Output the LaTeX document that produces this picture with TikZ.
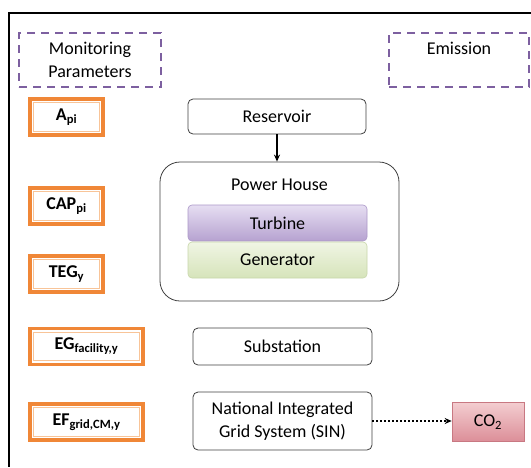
\documentclass[tikz,border=0pt]{standalone}
\usepackage{fontspec}
\setmainfont{Carlito}
\usepackage{xcolor}
\usetikzlibrary{arrows.meta, calc}
\definecolor{dashpurple}{RGB}{125,96,160}
\definecolor{orangeA}{RGB}{240,135,55}
\definecolor{orangeB}{RGB}{248,196,152}
\definecolor{turbTop}{RGB}{230,222,242}
\definecolor{turbBot}{RGB}{182,162,208}
\definecolor{turbEdge}{RGB}{172,152,200}
\definecolor{genTop}{RGB}{240,245,228}
\definecolor{genBot}{RGB}{214,228,186}
\definecolor{genEdge}{RGB}{200,215,170}
\definecolor{coTop}{RGB}{243,205,208}
\definecolor{coBot}{RGB}{220,142,152}
\definecolor{coEdge}{RGB}{200,120,130}

\begin{document}
\begin{tikzpicture}[x=1pt, y=-1pt, >={Stealth[length=7pt, width=6pt]},
  every node/.style={font=\fontsize{18}{23}\selectfont, align=center, inner sep=0pt},
  group/.style={draw=dashpurple, line width=2pt, dash pattern=on 8pt off 6pt},
  param/.style={draw=orangeA, line width=3.5pt, fill=white, minimum height=36pt, font=\fontsize{18}{23}\selectfont\bfseries,
    path picture={\draw[orangeB, line width=0.8pt] ([shift={(3.8pt,-3.8pt)}]path picture bounding box.north west) rectangle ([shift={(-3.8pt,3.8pt)}]path picture bounding box.south east);}},
  stage/.style={draw=black!75, line width=0.8pt, rounded corners=5pt, fill=white},
  unit/.style={rounded corners=4pt, line width=0.6pt, minimum width=179pt, minimum height=36pt}]
  \useasboundingbox (0,0) rectangle (531,467);
  \draw[line width=1.2pt] (531,13) -| (9,467);

  \node[group, minimum width=142pt, minimum height=54pt] (monitor) at (90,60) {Monitoring\\Parameters};
  \node[group, minimum width=140pt, minimum height=54pt] (emission) at (459,60) {Emission\\\phantom{P}};

  \node[param, minimum width=73pt] (api) at (66.5,117) {A\textsubscript{pi}};
  \node[param, minimum width=73pt] (cap) at (66.5,206) {CAP\textsubscript{pi}};
  \node[param, minimum width=73pt] (teg) at (66.5,274) {TEG\textsubscript{y}};
  \node[param, minimum width=113pt] (egf) at (86.5,346.5) {EG\textsubscript{facility,y}};
  \node[param, minimum width=113pt] (efg) at (86.5,422) {EF\textsubscript{grid,CM,y}};

  \node[stage, minimum width=178pt, minimum height=35pt] (reservoir) at (277,116.5) {Reservoir};
  \node[stage, rounded corners=20pt, minimum width=239pt, minimum height=139pt] (house) at (279.5,231.5) {};
  \node (houselabel) at (279.5,185) {Power House};
  \node[unit, draw=turbEdge, top color=turbTop, bottom color=turbBot] (turbine) at (277.5,223) {Turbine};
  \node[unit, draw=genEdge, top color=genTop, bottom color=genBot] (generator) at (277.5,260) {Generator};
  \node[stage, minimum width=179pt, minimum height=37pt] (substation) at (282.5,346.5) {Substation};
  \node[stage, minimum width=179pt, minimum height=58pt] (sin) at (282.5,421) {National Integrated\\Grid System (SIN)};
  \node[draw=coEdge, line width=0.6pt, top color=coTop, bottom color=coBot, minimum width=72pt, minimum height=39pt] (co2) at (488,422) {CO\textsubscript{2}};

  \draw[->, line width=1.2pt] (reservoir.south) -- (reservoir.south |- house.north);
  \draw[->, line width=1.8pt, dash pattern=on 2pt off 2pt] (sin.east) -- (sin.east -| co2.west);
\end{tikzpicture}
\end{document}
